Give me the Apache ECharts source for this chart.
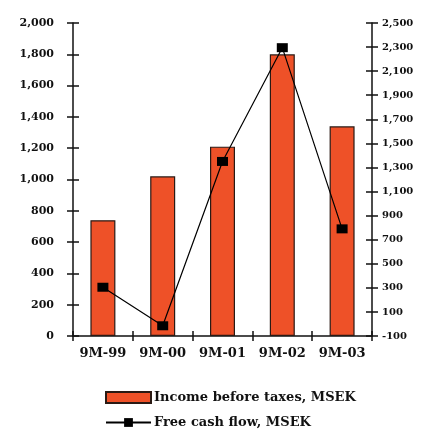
<!DOCTYPE html>
<html>
<head>
<meta charset="utf-8">
<script src="https://cdn.jsdelivr.net/npm/echarts@6/dist/echarts.min.js"></script>
<style>
  html, body { margin: 0; padding: 0; background: #ffffff; }
  #chart { width: 423px; height: 433px; }
</style>
</head>
<body>
<div id="chart"></div>
<script>
// Nine-month figures, MSEK
const categories = ['9M-99', '9M-00', '9M-01', '9M-02', '9M-03'];
const incomeBeforeTaxes = [740, 1020, 1210, 1800, 1340];
const freeCashFlow = [305, -15, 1350, 2295, 790];

const FONT = 'DejaVu Serif';
const INK = '#111111';
const BAR_NAME = 'Income before taxes, MSEK';
const LINE_NAME = 'Free cash flow, MSEK';

const chart = echarts.init(document.getElementById('chart'));

// Each value scale is drawn twice (outside + inside ticks) so the ticks cross the axis line
function valueAxis(position, min, max, withLabels, tickInside, labelSize, labelMargin) {
  return {
    type: 'value',
    position: position,
    min: min,
    max: max,
    interval: 200,
    splitLine: { show: false },
    axisLine: { show: withLabels, onZero: false, lineStyle: { color: INK, width: 1.5 } },
    axisTick: { show: true, inside: tickInside, length: 6, lineStyle: { color: INK, width: 1.5 } },
    axisLabel: {
      show: withLabels,
      color: INK,
      fontFamily: FONT,
      fontWeight: 'bold',
      fontSize: labelSize,
      margin: labelMargin,
      formatter: v => v.toLocaleString('en-US')
    }
  };
}

function categoryAxis(withLabels, tickInside) {
  return {
    type: 'category',
    data: categories,
    position: 'bottom',
    boundaryGap: true,
    axisLine: { show: withLabels, onZero: false, lineStyle: { color: INK, width: 1.5 } },
    axisTick: { show: true, inside: tickInside, interval: 0, length: 5, lineStyle: { color: INK, width: 1.5 } },
    axisLabel: {
      show: withLabels,
      interval: 0,
      hideOverlap: false,
      color: INK,
      fontFamily: FONT,
      fontWeight: 'bold',
      fontSize: 13,
      margin: 11
    }
  };
}

function legendRow(name, top, icon) {
  return {
    orient: 'horizontal',
    left: 105,
    top: top,
    itemWidth: 45,
    itemHeight: 11,
    padding: 0,
    textStyle: { color: INK, fontFamily: FONT, fontWeight: 'bold', fontSize: 13, padding: [0, 0, 0, -2] },
    data: [icon ? { name: name, icon: icon } : { name: name }]
  };
}

chart.setOption({
  animation: false,
  backgroundColor: '#ffffff',
  grid: { left: 73, right: 51, top: 23, bottom: 97, containLabel: false },
  xAxis: [categoryAxis(true, false), categoryAxis(false, true)],
  yAxis: [
    valueAxis('left', 0, 2000, true, false, 11, 19),
    valueAxis('right', -100, 2500, true, false, 10, 10),
    valueAxis('left', 0, 2000, false, true, 11, 19),
    valueAxis('right', -100, 2500, false, true, 10, 10)
  ],
  legend: [
    legendRow(BAR_NAME, 391, 'rect'),
    legendRow(LINE_NAME, 416, null)
  ],
  series: [
    {
      name: BAR_NAME,
      type: 'bar',
      xAxisIndex: 0,
      yAxisIndex: 0,
      data: incomeBeforeTaxes,
      barWidth: 25,
      itemStyle: { color: '#EE5128', borderColor: '#2a1a14', borderWidth: 1.2 }
    },
    {
      name: LINE_NAME,
      type: 'line',
      xAxisIndex: 0,
      yAxisIndex: 1,
      data: freeCashFlow,
      symbol: 'rect',
      symbolSize: [11, 9],
      itemStyle: { color: '#000000' },
      lineStyle: { color: '#000000', width: 1.2 },
      z: 5
    }
  ]
});
</script>
</body>
</html>
